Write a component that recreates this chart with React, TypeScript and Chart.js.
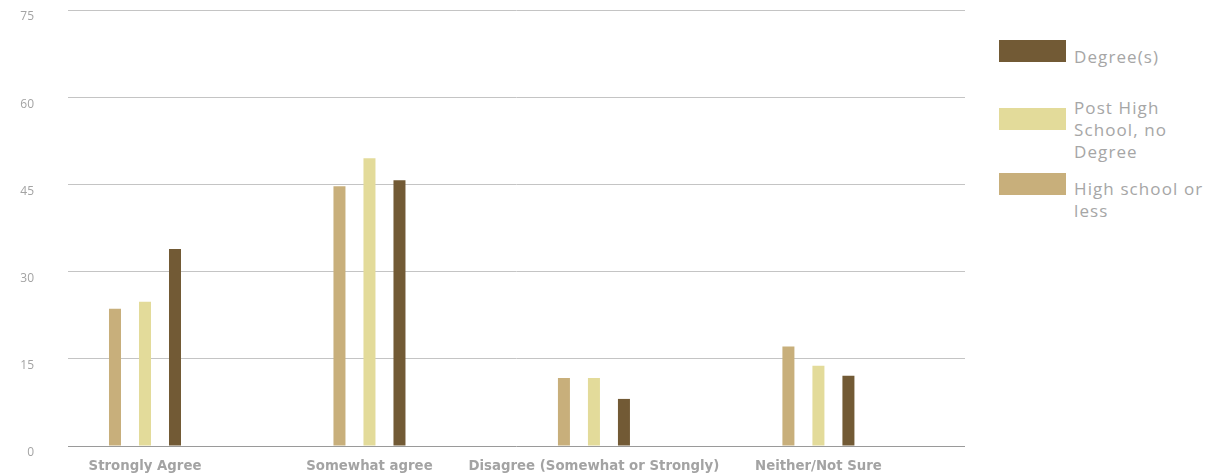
import React, { useEffect, useRef } from "react";
import { Chart, registerables } from "chart.js";

Chart.register(...registerables);

const categories = [
  "Strongly Agree",
  "Somewhat agree",
  "Disagree (Somewhat or Strongly)",
  "Neither/Not Sure",
];
const seriesNames = ["High school or less", "Post High School, no Degree", "Degree(s)"];
const highSchool = [23.6, 44.7, 11.7, 17.1];
const postHigh = [24.8, 49.5, 11.7, 13.8];
const degree = [33.9, 45.7, 8.1, 12.1];
const yTicks = [0, 15, 30, 45, 60, 75];

const colors = ["#c8af7b", "#e3db9a", "#725a35"];
const legendOrder = [2, 1, 0];
const legendBoxTops = [40, 108, 173];
const legendTextTops = [46, 97, 178];

export default function App() {
  const canvasRef = useRef<HTMLCanvasElement | null>(null);

  useEffect(() => {
    const prevMargin = document.body.style.margin;
    document.body.style.margin = "0";
    const canvas = canvasRef.current;
    if (!canvas) return;
    const seriesValues = [highSchool, postHigh, degree];
    const chart = new Chart(canvas, {
      type: "bar",
      data: {
        datasets: seriesValues.map((vals, s) => ({
          label: seriesNames[s],
          data: vals.map((v, i) => ({ x: i, y: v })),
          backgroundColor: colors[s],
          borderWidth: 0,
          categoryPercentage: 0.401,
          barPercentage: 0.4,
        })),
      },
      options: {
        animation: false,
        responsive: false,
        maintainAspectRatio: false,
        layout: { padding: { top: 10, right: 15, left: 0, bottom: 0 } },
        plugins: {
          legend: { display: false },
          tooltip: { enabled: false },
        },
        scales: {
          x: {
            type: "linear",
            offset: false,
            min: -0.343,
            max: 3.653,
            afterBuildTicks: (axis: any) => {
              axis.ticks = categories.map((_, i) => ({ value: i }));
            },
            afterFit: (axis: any) => {
              axis.height = 29;
              axis.paddingLeft = 0;
              axis.paddingRight = 0;
            },
            grid: { display: false, drawTicks: false, offset: false },
            border: { display: false },
            ticks: {
              autoSkip: false,
              maxRotation: 0,
              minRotation: 0,
              padding: 13,
              color: "#a3a3a3",
              font: { family: "'DejaVu Sans'", size: 13.3, weight: "bold" },
              callback: (value: any) => categories[value as number] ?? "",
            },
          },
          y: {
            min: 0,
            max: 75,
            afterBuildTicks: (axis: any) => {
              axis.ticks = yTicks.map((v) => ({ value: v }));
            },
            afterFit: (axis: any) => {
              axis.width = 68;
              axis.paddingTop = 0;
              axis.paddingBottom = 0;
            },
            border: { display: false },
            grid: {
              drawTicks: false,
              lineWidth: 1,
              color: (ctx: any) => (ctx.tick && ctx.tick.value === 0 ? "#9a9a9a" : "#c4c4c4"),
            },
            ticks: {
              padding: 34,
              labelOffset: 7,
              color: "#a3a3a3",
              font: { family: "'Open Sans'", size: 12 },
            },
          },
        },
      },
    });
    return () => {
      chart.destroy();
      document.body.style.margin = prevMargin;
    };
  }, []);

  return (
    <div style={{ position: "relative", width: 1219, height: 475, overflow: "hidden", background: "#fff" }}>
      <canvas ref={canvasRef} width={980} height={475} style={{ position: "absolute", left: 0, top: 0, width: 980, height: 475 }} />
      {legendOrder.map((s, k) => (
        <React.Fragment key={s}>
          <div
            style={{
              position: "absolute",
              left: 999,
              top: legendBoxTops[k],
              width: 67,
              height: 22,
              background: colors[s],
            }}
          />
          <div
            style={{
              position: "absolute",
              left: 1074,
              top: legendTextTops[k],
              width: 140,
              fontFamily: "'Open Sans', sans-serif",
              fontSize: 17,
              lineHeight: "22px",
              letterSpacing: "1.1px",
              color: "#a6a6a6",
            }}
          >
            {seriesNames[s]}
          </div>
        </React.Fragment>
      ))}
    </div>
  );
}
